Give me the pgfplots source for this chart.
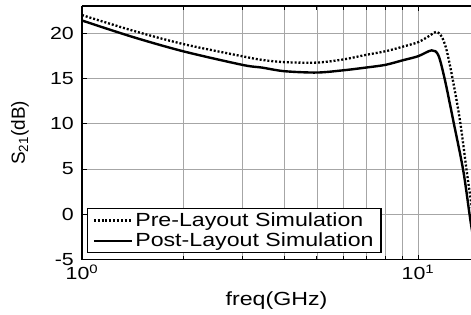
\documentclass[border=0pt]{standalone}
\usepackage{fontspec}
\setmainfont{Liberation Sans}[FakeStretch=1.22]
\newfontfamily\plainsans{Liberation Sans}
\usepackage{pgfplots}
\pgfplotsset{compat=1.18}
\pgfplotstableread{
x y
1 22.0
1.41 20.3
2 18.8
3 17.45
3.43 17.05
4 16.8
5 16.75
6 17.1
7 17.6
8 18.0
9 18.5
10 19.0
10.7 19.6
11.36 20.15
11.77 19.6
12.17 18.1
12.7 14.8
13.34 10.3
13.96 4.8
14.38 1.4
15.3 -5.6
}\pre
\pgfplotstableread{
x y
1 21.4
1.41 19.6
2 18.0
3 16.5
3.43 16.2
4 15.8
5 15.65
6 15.9
7 16.2
8 16.5
9 17.0
10 17.45
10.98 18.1
11.5 17.55
12.03 14.8
12.74 10.3
13.64 4.8
14.38 -1.1
15.1 -5.6
}\post
\begin{document}
\begin{tikzpicture}
\begin{axis}[
  scale only axis, width=389pt, height=253.5pt,
  xmode=log, xmin=1, xmax=14.38, ymin=-5, ymax=23,
  axis y line*=left, axis x line*=box,
  xtick={1,10}, xticklabels={10\textsuperscript{0},10\textsuperscript{1}},
  minor xtick={2,3,4,5,6,7,8,9},
  ytick={-5,0,5,10,15,20}, yticklabels={-5,0,5,10,15,20},
  xmajorgrids, xminorgrids, ymajorgrids,
  grid style={black!35, line width=0.7pt},
  tick style={black, line width=0.8pt},
  major tick length=5pt, minor tick length=4pt, tick align=inside,
  axis line style={line width=1.3pt},
  tick label style={font=\fontsize{17.5}{19}\selectfont},
  yticklabel style={anchor=east, inner sep=0pt, xshift=-8pt},
  xticklabel style={anchor=base, inner sep=0pt, yshift=-20pt},
  label style={font=\fontsize{19}{21}\selectfont},
  xlabel={freq(GHz)},
  xlabel style={at={(axis description cs:0.5,0)}, anchor=center, yshift=-41.5pt},
  ylabel={\plainsans S\textsubscript{21}(dB)},
  ylabel style={at={(axis description cs:-0.1594,0.5)}, anchor=center},
  legend style={at={(axis description cs:0,0)}, anchor=south west, xshift=5pt, yshift=6.5pt,
    draw=black, line width=1.2pt, font=\fontsize{19}{21}\selectfont,
    inner xsep=5pt, inner ysep=1.5pt, nodes={inner sep=2.3pt, text depth=0.2em}, row sep=0pt},
  legend cell align=left,
  legend image code/.code={\draw[#1] (0pt,0pt) -- (38pt,0pt);},
]
\addplot[black, line width=2.3pt, dash pattern=on 2pt off 1.9pt, smooth, tension=0.5] table {\pre};
\addlegendentry{Pre-Layout Simulation}
\addplot[black, line width=2.4pt, smooth, tension=0.5] table {\post};
\addlegendentry{Post-Layout Simulation}
\end{axis}
\pgfresetboundingbox
\path[use as bounding box] (current axis.south west) ++(-82pt,-54.5pt) rectangle ++(471pt,314pt);
\end{tikzpicture}
\end{document}
